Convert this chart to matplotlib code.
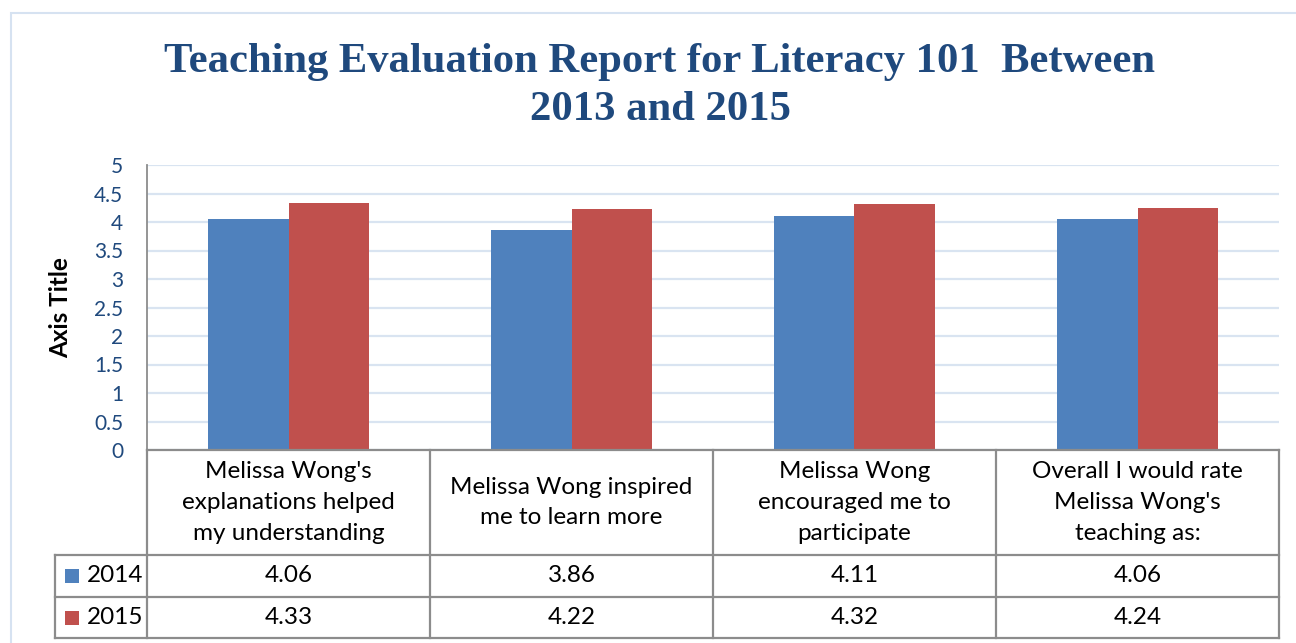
import matplotlib
matplotlib.use("Agg")
import matplotlib.pyplot as plt
from matplotlib.lines import Line2D
from matplotlib.patches import Rectangle
import numpy as np

categories = [
    "Melissa Wong's\nexplanations helped\nmy understanding",
    "Melissa Wong inspired\nme to learn more",
    "Melissa Wong\nencouraged me to\nparticipate",
    "Overall I would rate\nMelissa Wong's\nteaching as:",
]
series_names = ["2014", "2015"]
values_2014 = [4.06, 3.86, 4.11, 4.06]
values_2015 = [4.33, 4.22, 4.32, 4.24]
yticks = [0, 0.5, 1, 1.5, 2, 2.5, 3, 3.5, 4, 4.5, 5]
title = "Teaching Evaluation Report for Literacy 101  Between\n2013 and 2015"
ylabel = "Axis Title"

colors = ["#4F81BD", "#C0504D"]
W, H = 1296, 643
fig = plt.figure(figsize=(W / 100, H / 100), dpi=100)
fig.patch.set_facecolor("white")

def fx(px):
    return px / W

def fy(py):
    return 1 - py / H

TXT = "Lato"
NAVY = "#1F497D"
GRID = "#D9E4F1"
TBL = "#8C8C8C"

# outer chart border
fig.add_artist(Rectangle((fx(11), fy(700)), fx(1400) - fx(11), fy(13) - fy(700),
                         transform=fig.transFigure, fill=False, edgecolor="#D6E2F1", lw=1.5))

L, R, T, B = 147, 1279, 165, 450
ax = fig.add_axes([fx(L), fy(B), fx(R) - fx(L), fy(T) - fy(B)])
x = np.arange(len(categories))
bw = 0.286
ax.bar(x - bw / 2, values_2014, bw, color=colors[0], zorder=3)
ax.bar(x + bw / 2, values_2015, bw, color=colors[1], zorder=3)
ax.set_xlim(-0.5, len(categories) - 0.5)
ax.set_ylim(0, 5)
ax.set_yticks(yticks)
ax.set_yticklabels([f"{t:g}" for t in yticks], fontsize=15, color=NAVY, family=TXT)
ax.tick_params(axis="y", length=0, pad=17)
ax.set_xticks([])
ax.yaxis.grid(True, color=GRID, lw=1.6, zorder=0)
for s in ["top", "right", "bottom"]:
    ax.spines[s].set_visible(False)
ax.spines["left"].set_color("#8C8C8C")
ax.spines["left"].set_linewidth(1.3)
ax.set_ylabel(ylabel, fontsize=17.5, fontweight="bold", family=TXT)
ax.yaxis.set_label_coords((72 - L) / (R - L), 0.5)

# data table
def hline(y, x0, x1):
    fig.add_artist(Line2D([fx(x0), fx(x1)], [fy(y), fy(y)], transform=fig.transFigure,
                          color=TBL, lw=1.6))

def vline(xp, y0, y1):
    fig.add_artist(Line2D([fx(xp), fx(xp)], [fy(y0), fy(y1)], transform=fig.transFigure,
                          color=TBL, lw=1.6))

rows = [450, 555, 597, 638]
legL = 55
hline(450, L, R)
for r in rows[1:]:
    hline(r, legL, R)
vline(legL, rows[1], rows[3])
colw = (R - L) / len(categories)
for i in range(len(categories) + 1):
    vline(L + i * colw, rows[0], rows[3])

hdr_c = (rows[0] + rows[1]) / 2
for i, c in enumerate(categories):
    cx = L + (i + 0.5) * colw
    fig.text(fx(cx), fy(hdr_c), c, ha="center", va="center", fontsize=17.5,
             family=TXT, linespacing=1.58, color="black")

for j, (name, vals) in enumerate(zip(series_names, [values_2014, values_2015])):
    rc = (rows[j + 1] + rows[j + 2]) / 2
    fig.add_artist(Rectangle((fx(65), fy(rc + 7)), fx(14), fy(0) - fy(14),
                             transform=fig.transFigure, facecolor=colors[j], edgecolor="none"))
    fig.text(fx(87), fy(rc), name, ha="left", va="center", fontsize=17.5, family=TXT)
    for i, v in enumerate(vals):
        cx = L + (i + 0.5) * colw
        fig.text(fx(cx), fy(rc), f"{v:.2f}", ha="center", va="center", fontsize=17.5, family=TXT)

fig.text(fx(660), fy(86), title, ha="center", va="center", fontsize=30.7,
         family="Liberation Serif", fontweight="bold", color=NAVY, linespacing=1.32)

fig.savefig("out.png", dpi=100, facecolor="white")
